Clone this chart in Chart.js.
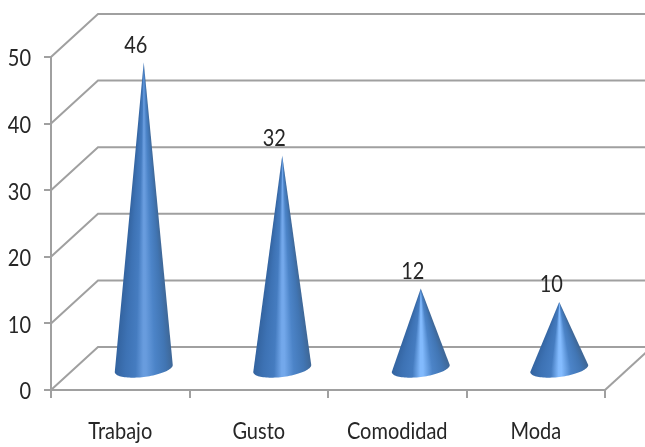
<!DOCTYPE html>
<html>
<head>
<meta charset="utf-8">
<style>
  html, body { margin: 0; background: #fff; }
  canvas { display: block; }
</style>
</head>
<body>
<canvas id="conesChart" width="645" height="447"></canvas>
<script src="https://cdn.jsdelivr.net/npm/chart.js@4"></script>
<script>
const categories = ['Trabajo', 'Gusto', 'Comodidad', 'Moda'];
const values = [46, 32, 12, 10];
const tickValues = [0, 10, 20, 30, 40, 50];

const GRID_COLOR = '#a0a0a0';
const TEXT_COLOR = '#262626';
const FONT = '20px Lato';
const TEXT_STRETCH = 1.15;

// 3D depth of the box, in pixels
const DEPTH_X = 47;
const DEPTH_Y = 43;
const CONE_RADIUS = 29;
const CONE_RY = 8.5;
const CONE_TILT = 3.5;

// fill one row of a cone; short cones get a stronger highlight
function rowGradient(ctx, cx, halfWidth, coneHeight) {
  const k = Math.min(1, Math.max(0, (coneHeight - 66) / 240));
  const r = Math.round(132 - 28 * k);
  const g = Math.round(188 - 32 * k);
  const b = Math.round(255 - 33 * k);
  const highlight = `rgb(${r},${g},${b})`;
  const grad = ctx.createLinearGradient(cx - halfWidth, 0, cx + halfWidth, 0);
  grad.addColorStop(0, '#33639f');
  grad.addColorStop(0.18, '#3d72b4');
  grad.addColorStop(0.36, '#457cc0');
  grad.addColorStop(0.49, highlight);
  grad.addColorStop(0.54, highlight);
  grad.addColorStop(0.7, '#4c84c8');
  grad.addColorStop(0.88, '#4175b3');
  grad.addColorStop(1, '#3f6898');
  return grad;
}

function drawCone(ctx, cx, apexY, baseY) {
  const height = baseY - apexY;
  ctx.save();
  ctx.beginPath();
  ctx.moveTo(cx, apexY);
  for (let i = 0; i <= 48; i++) {
    const a = Math.PI - (Math.PI * i) / 48;
    const cos = Math.cos(a);
    ctx.lineTo(cx + CONE_RADIUS * cos, baseY + CONE_RY * Math.sin(a) - CONE_TILT * cos);
  }
  ctx.closePath();
  ctx.clip();
  const bottom = Math.ceil(baseY + CONE_RY + CONE_TILT);
  for (let y = Math.floor(apexY); y < bottom; y++) {
    const halfWidth = Math.max(0.5, CONE_RADIUS * Math.min(1, (y + 0.5 - apexY) / height));
    ctx.fillStyle = rowGradient(ctx, cx, halfWidth, height);
    ctx.fillRect(cx - CONE_RADIUS - 1, y, 2 * CONE_RADIUS + 2, 1);
  }
  ctx.restore();
}

// text is a little taller than the font's own proportions
function drawLabel(ctx, text, x, y, align) {
  ctx.save();
  ctx.translate(x, y);
  ctx.scale(1, TEXT_STRETCH);
  ctx.fillStyle = TEXT_COLOR;
  ctx.font = FONT;
  ctx.textAlign = align;
  ctx.textBaseline = 'middle';
  ctx.fillText(text, 0, 0);
  ctx.restore();
}

// back wall and side wall lines
const wallPlugin = {
  id: 'walls',
  beforeDatasetsDraw(chart) {
    const { ctx, scales } = chart;
    const left = scales.x.left;
    const right = scales.x.right;
    ctx.save();
    ctx.strokeStyle = GRID_COLOR;
    ctx.lineWidth = 2;
    tickValues.forEach(v => {
      const y = scales.y.getPixelForValue(v);
      ctx.beginPath();
      ctx.moveTo(left, y);
      ctx.lineTo(left + DEPTH_X, y - DEPTH_Y);
      ctx.lineTo(right + DEPTH_X, y - DEPTH_Y);
      ctx.stroke();
    });
    const y0 = scales.y.getPixelForValue(0);
    ctx.beginPath();
    ctx.moveTo(right, y0);
    ctx.lineTo(right + DEPTH_X, y0 - DEPTH_Y);
    ctx.stroke();
    ctx.restore();
  }
};

// cones stand in the middle of the box depth, value label above the tip
const conePlugin = {
  id: 'cones',
  afterDatasetsDraw(chart) {
    const { ctx, scales } = chart;
    const baseY = scales.y.getPixelForValue(0) - DEPTH_Y / 2;
    chart.getDatasetMeta(0).data.forEach((bar, i) => {
      const cx = bar.x + DEPTH_X / 2;
      const apexY = bar.y - DEPTH_Y / 2;
      drawCone(ctx, cx, apexY, baseY);
      drawLabel(ctx, String(values[i]), cx - 8, apexY - 17, 'center');
    });
    tickValues.forEach(v => {
      drawLabel(ctx, String(v), 31, scales.y.getPixelForValue(v) + 2, 'right');
    });
    categories.forEach((name, i) => {
      drawLabel(ctx, name, scales.x.getPixelForValue(i), 432, 'center');
    });
  }
};

new Chart(document.getElementById('conesChart'), {
  type: 'bar',
  data: {
    labels: categories,
    datasets: [{
      data: values,
      backgroundColor: 'transparent',
      borderWidth: 0
    }]
  },
  options: {
    responsive: false,
    animation: false,
    layout: { padding: { top: 57, right: 40, left: 0, bottom: 0 } },
    plugins: {
      legend: { display: false },
      title: { display: false },
      tooltip: { enabled: false }
    },
    scales: {
      x: {
        afterFit: scale => { scale.height = 57; },
        grid: {
          drawOnChartArea: false,
          color: GRID_COLOR,
          lineWidth: 2,
          tickLength: 8
        },
        border: { color: GRID_COLOR, width: 2 },
        ticks: { display: false }
      },
      y: {
        min: 0,
        max: 50,
        afterFit: scale => { scale.width = 51; },
        afterBuildTicks: scale => { scale.ticks = tickValues.map(value => ({ value })); },
        grid: {
          drawOnChartArea: false,
          color: GRID_COLOR,
          lineWidth: 2,
          tickLength: 7
        },
        border: { color: GRID_COLOR, width: 2 },
        ticks: { display: false }
      }
    }
  },
  plugins: [wallPlugin, conePlugin]
});
</script>
</body>
</html>
